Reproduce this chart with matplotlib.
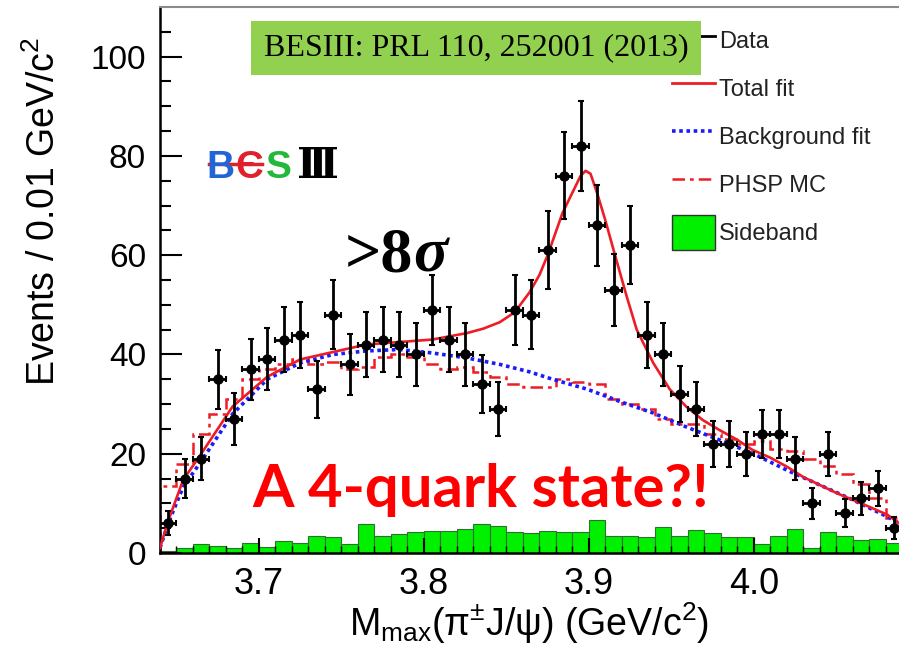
import matplotlib.pyplot as plt
import numpy as np
from matplotlib.lines import Line2D
from matplotlib.patches import Patch

plt.rcParams['font.family'] = 'Liberation Sans'
plt.rcParams['mathtext.fontset'] = 'custom'
plt.rcParams['mathtext.rm'] = 'Liberation Sans'
plt.rcParams['mathtext.it'] = 'Liberation Sans:italic'
plt.rcParams['mathtext.bf'] = 'Liberation Sans:bold'

W, H = 899, 662  # output size in pixels

# Binning: 0.01 GeV bins starting at 3.64 GeV.
m_lo, bin_w, n_bins = 3.64, 0.01, 45
edges = m_lo + bin_w * np.arange(n_bins + 1)
centers = edges[:-1] + bin_w / 2

# Data (events per bin).
counts = [6, 15, 19, 35, 27, 37, 39, 43, 44, 33,
          48, 38, 42, 43, 42, 40, 49, 43, 40, 34,
          29, 49, 48, 61, 76, 82, 66, 53, 62, 44,
          40, 32, 29, 22, 22, 20, 24, 24, 19, 10,
          20, 8, 11, 13, 5]

# Sideband histogram.
sideband = [0.5, 1, 1.8, 1.5, 1, 2.1, 1.3, 2.5, 2.1, 3.5,
            3.2, 1.8, 5.8, 3.5, 3.8, 4.3, 4.5, 4.5, 4.8, 5.8,
            5.5, 4.2, 4, 4.5, 4.3, 4.2, 6.7, 3.5, 3.5, 3.2,
            5.2, 3.5, 4.7, 4, 3.2, 3.2, 1.8, 3.5, 4.8, 1.1,
            4.2, 3.5, 2.7, 2.8, 2.1]

# PHSP MC histogram.
phsp = [13.5, 18, 24, 28, 31, 35, 37, 38, 39, 38,
        38.5, 37, 37.5, 39.5, 40, 39.5, 38, 37, 37.5, 36.5,
        35.5, 34, 33.5, 33.5, 35, 34.5, 34, 31, 30, 29,
        27, 26, 26, 24, 23, 22, 22.5, 21, 20.5, 19,
        17.5, 16, 14, 11, 7]

# Total fit curve.
fit_m = [3.640, 3.645, 3.654, 3.664, 3.684, 3.705, 3.725, 3.745, 3.765,
         3.785, 3.805, 3.826, 3.836, 3.846, 3.855, 3.864, 3.870, 3.875,
         3.884, 3.890, 3.895, 3.898, 3.901, 3.905, 3.910, 3.915, 3.923,
         3.929, 3.939, 3.949, 3.959, 3.969, 3.979, 3.990, 3.999, 4.010,
         4.020, 4.030, 4.040, 4.050, 4.060, 4.070, 4.081, 4.088]
fit_total = [1, 6.5, 14.7, 19.5, 29.5, 35.5, 39, 40.5, 42,
             42.5, 43, 44.3, 45.2, 46.5, 48.5, 52.5, 56, 60,
             68.5, 72.6, 76, 77, 76.4, 72.5, 67, 61, 51.6,
             45, 38.3, 33, 29.5, 26.8, 24.8, 22.8, 20.8, 19.2,
             17.4, 15.3, 13.7, 12.1, 10.7, 9.3, 7.7, 6]

# Background fit curve.
bkg_m = [3.640, 3.645, 3.654, 3.664, 3.684, 3.705, 3.725, 3.745, 3.765,
         3.785, 3.805, 3.826, 3.846, 3.864, 3.878, 3.899, 3.919, 3.939,
         3.959, 3.979, 3.999, 4.020, 4.040, 4.060, 4.081, 4.088]
bkg = [1, 6, 13.3, 18, 28, 35, 38.3, 40, 40.7,
       41, 40.3, 39.3, 38, 36.5, 35, 33, 30.5, 28.2,
       25.4, 22.8, 20.1, 16.7, 13.7, 10.7, 7.3, 6]

red = '#ee1c25'
blue = '#1a1aff'
green = '#00f000'

fig = plt.figure(figsize=(W / 100, H / 100), dpi=100)
ax = fig.add_axes([160 / W, 109 / H, 739 / W, 546 / H])


def fx(x, y):
    # pixel position -> figure fraction
    return x / W, 1 - y / H


ax.bar(centers, sideband, width=bin_w, color=green, edgecolor='#2f6f2f',
       linewidth=0.8, zorder=1)
ax.stairs(phsp, edges, color=red, linewidth=1.8,
          linestyle=(0, (5, 2, 1.5, 2)), zorder=2)
ax.plot(bkg_m, bkg, color=blue, linewidth=2.6, linestyle=(0, (1, 1)), zorder=3)
ax.plot(fit_m, fit_total, color=red, linewidth=1.9, zorder=3)
ax.errorbar(centers, counts, yerr=np.sqrt(counts), xerr=bin_w / 2,
            fmt='o', color='black', markersize=6.5, elinewidth=2,
            capsize=2, capthick=1.5, zorder=4)

ax.set_xlim(m_lo, 4.088)
ax.set_ylim(0, 110)
ax.set_xticks([3.7, 3.8, 3.9, 4.0])
ax.set_xticklabels(['3.7', '3.8', '3.9', '4.0'])
ax.set_xticks(edges[:-1], minor=True)
ax.set_yticks([0, 20, 40, 60, 80, 100])
ax.set_yticks(np.arange(0, 110, 5), minor=True)
ax.tick_params(axis='x', which='major', direction='in', length=11, width=1.5,
               labelsize=26, pad=10)
ax.tick_params(axis='x', which='minor', direction='in', length=5, width=1)
ax.tick_params(axis='y', which='major', direction='in', length=16, width=1.5,
               labelsize=24, pad=10)
ax.tick_params(axis='y', which='minor', direction='in', length=8, width=1.5)
ax.tick_params(top=False, right=False, which='both')
ax.spines['right'].set_visible(False)
ax.spines['top'].set_color('#8a8a8a')
ax.spines['top'].set_linewidth(1.5)
ax.spines['left'].set_linewidth(1.8)
ax.spines['bottom'].set_linewidth(1.8)

ax.set_ylabel('Events / 0.01 GeV/c$^{2}$', fontsize=27)
ax.yaxis.set_label_coords(-0.131, 0.625)
ax.set_xlabel('M$_{\\rm max}$(π$^{\\pm}$J/ψ) (GeV/c$^{2}$)', fontsize=27,
              va='top')
ax.xaxis.set_label_coords(0.5, -0.086)

handles = [
    Line2D([], [], color='black', linewidth=2),
    Line2D([], [], color=red, linewidth=2),
    Line2D([], [], color=blue, linewidth=2.6, linestyle=(0, (1, 1))),
    Line2D([], [], color=red, linewidth=1.8, linestyle=(0, (5, 2, 1.5, 2))),
    Patch(facecolor=green, edgecolor='#333333', linewidth=1),
]
labels = ['Data', 'Total fit', 'Background fit', 'PHSP MC', 'Sideband']
leg = ax.legend(handles, labels, loc='upper left',
                bbox_to_anchor=fx(672, 23), bbox_transform=fig.transFigure,
                frameon=False, fontsize=17, borderpad=0, borderaxespad=0,
                handlelength=1.8, handleheight=1.9, handletextpad=0.2,
                labelspacing=0.55)
for t in leg.get_texts():
    t.set_color('#222222')

# Reference box on top of the legend's Data entry.
ax.text(*fx(476, 48), 'BESIII: PRL 110, 252001 (2013)', transform=fig.transFigure,
        family='Liberation Serif', fontsize=23, ha='center', va='center',
        bbox=dict(boxstyle='square,pad=0.4', facecolor='#92d050',
                  edgecolor='none'), zorder=10)

# BESIII logo
logo_size = 28
fig.text(*fx(220, 178), 'B', color='#2266d6', fontsize=logo_size,
         fontweight='bold', ha='center', va='baseline')
fig.text(*fx(249, 178), 'Є', color='#e0202a', fontsize=logo_size,
         fontweight='bold', ha='center', va='baseline')
fig.text(*fx(279, 178), 'S', color='#22b83a', fontsize=logo_size,
         fontweight='bold', ha='center', va='baseline')
fig.text(*fx(318, 178), 'Ⅲ', color='black', fontsize=logo_size + 2,
         fontweight='bold', family=['DejaVu Serif', 'DejaVu Sans'],
         ha='center', va='baseline')
fig.add_artist(Line2D([209 / W, 262 / W], [1 - 164 / H, 1 - 164 / H],
                      color='#e0202a', linewidth=2.5))

fig.text(*fx(345, 272), '>8', family='Liberation Serif', fontweight='bold',
         fontsize=46, ha='left', va='baseline')
fig.text(*fx(413, 272), 'σ', family='Liberation Serif', fontweight='bold',
         fontstyle='italic', fontsize=46, ha='left', va='baseline')

fig.text(*fx(252, 507), 'A 4-quark state?!', family='Lato', fontweight='bold',
         color='#ff0000', fontsize=43, ha='left', va='baseline')

fig.savefig('out.png', dpi=100)
